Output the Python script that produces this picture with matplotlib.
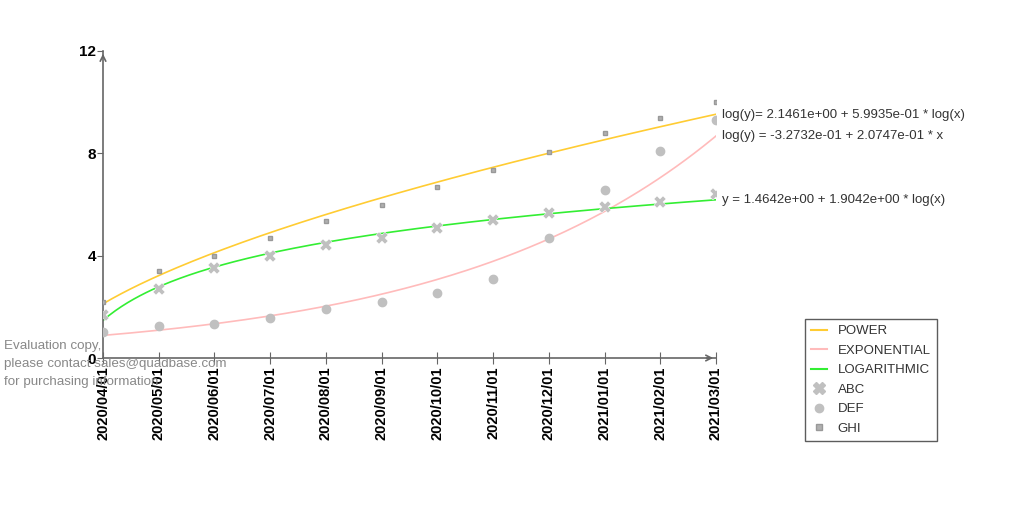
import matplotlib
matplotlib.use("Agg")
import matplotlib.pyplot as plt
from matplotlib.lines import Line2D
import numpy as np

plt.rcParams['font.family'] = ['Liberation Sans', 'DejaVu Sans']

dates = ["2020/04/01", "2020/05/01", "2020/06/01", "2020/07/01", "2020/08/01", "2020/09/01",
         "2020/10/01", "2020/11/01", "2020/12/01", "2021/01/01", "2021/02/01", "2021/03/01"]
abc = [1.7, 2.7, 3.5, 4.0, 4.4, 4.7, 5.1, 5.4, 5.65, 5.9, 6.1, 6.4]
def_ = [1.0, 1.27, 1.33, 1.58, 1.9, 2.2, 2.54, 3.1, 4.68, 6.55, 8.1, 9.3]
ghi = [2.18, 3.4, 4.0, 4.7, 5.35, 6.0, 6.68, 7.36, 8.04, 8.78, 9.4, 10.0]

eq_power = "log(y)= 2.1461e+00 + 5.9935e-01 * log(x)"
eq_exp = "log(y) = -3.2732e-01 + 2.0747e-01 * x"
eq_log = "y = 1.4642e+00 + 1.9042e+00 * log(x)"

x = np.arange(1, len(dates) + 1)
xs = np.linspace(1, len(dates), 200)

# fits
bp = np.polyfit(np.log(x), np.log(ghi), 1)
power_fit = np.exp(bp[1]) * xs ** bp[0]
be = np.polyfit(x, np.log(def_), 1)
exp_fit = np.exp(be[1] + be[0] * xs)
bl = np.polyfit(np.log(x), abc, 1)
log_fit = bl[1] + bl[0] * np.log(xs)

c_power = "#ffcc33"
c_exp = "#ffbbbb"
c_log = "#33ee33"
c_mark = "#c0c0c0"
c_axis = "#666666"

fig = plt.figure(figsize=(10.24, 5.12), dpi=100)
ax = fig.add_axes([103/1024, 1 - 358/512, 613/1024, 307/512])

ax.plot(xs, power_fit, color=c_power, lw=1.2, zorder=2)
ax.plot(xs, exp_fit, color=c_exp, lw=1.2, zorder=2)
ax.plot(xs, log_fit, color=c_log, lw=1.2, zorder=2)

ax.plot(x, abc, 'X', color=c_mark, ms=8, mec='white', mew=0.3, ls='none', zorder=3)
ax.plot(x, def_, 'o', color=c_mark, ms=6, ls='none', zorder=3)
ax.plot(x, ghi, 's', color="#b0b0b0", mec="#999999", ms=3.5, ls='none', zorder=3)

ax.set_xlim(1, 12)
ax.set_ylim(0, 12)
ax.set_yticks([0, 4, 8, 12])
ax.set_xticks(x)
ax.set_xticklabels(dates, rotation=90, fontsize=10.5, fontweight='bold')
for lab in ax.get_yticklabels():
    lab.set_fontweight('bold')
    lab.set_fontsize(11)
ax.tick_params(axis='x', direction='inout', length=8, color=c_axis, pad=2)
ax.tick_params(axis='y', direction='out', length=4, color=c_axis, pad=1)
for s in ['top', 'right']:
    ax.spines[s].set_visible(False)
for s in ['left', 'bottom']:
    ax.spines[s].set_color(c_axis)
    ax.spines[s].set_linewidth(1.2)

ax.annotate('', xy=(0, 1.0), xytext=(0, 0.97), xycoords='axes fraction',
            arrowprops=dict(arrowstyle='->', color=c_axis, lw=1.2))
ax.annotate('', xy=(1.0, 0), xytext=(0.98, 0), xycoords='axes fraction',
            arrowprops=dict(arrowstyle='->', color=c_axis, lw=1.2))

ax.text(12.1, power_fit[-1] - 0.02, eq_power, fontsize=9.5, color="#333333", va='center', clip_on=False)
ax.text(12.1, power_fit[-1] - 0.85, eq_exp, fontsize=9.5, color="#333333", va='center', clip_on=False)
ax.text(12.1, log_fit[-1] + 0.0, eq_log, fontsize=9.5, color="#333333", va='center', clip_on=False)

fig.text(4/1024, 1 - 346/512, "Evaluation copy,", fontsize=9.6, color="#888888", va='center')
fig.text(4/1024, 1 - 364/512, "please contact sales@quadbase.com", fontsize=9.6, color="#888888", va='center')
fig.text(4/1024, 1 - 382/512, "for purchasing information", fontsize=9.6, color="#888888", va='center')

handles = [
    Line2D([], [], color=c_power, lw=1.5),
    Line2D([], [], color=c_exp, lw=1.5),
    Line2D([], [], color=c_log, lw=1.5),
    Line2D([], [], marker='X', color=c_mark, ms=9, ls='none'),
    Line2D([], [], marker='o', color=c_mark, ms=6, ls='none'),
    Line2D([], [], marker='s', color="#b0b0b0", mec="#999999", ms=5, ls='none'),
]
labels = ["POWER", "EXPONENTIAL", "LOGARITHMIC", "ABC", "DEF", "GHI"]
leg = fig.legend(handles, labels, loc='upper left', bbox_to_anchor=(798/1024, 1 - 312/512),
                 fontsize=9.5, frameon=True, fancybox=False, edgecolor="#333333",
                 handlelength=1.2, labelspacing=0.55, borderpad=0.5, handletextpad=0.8)
leg.get_frame().set_linewidth(1.0)
for t in leg.get_texts():
    t.set_color("#333333")

fig.savefig("out.png", dpi=100)
